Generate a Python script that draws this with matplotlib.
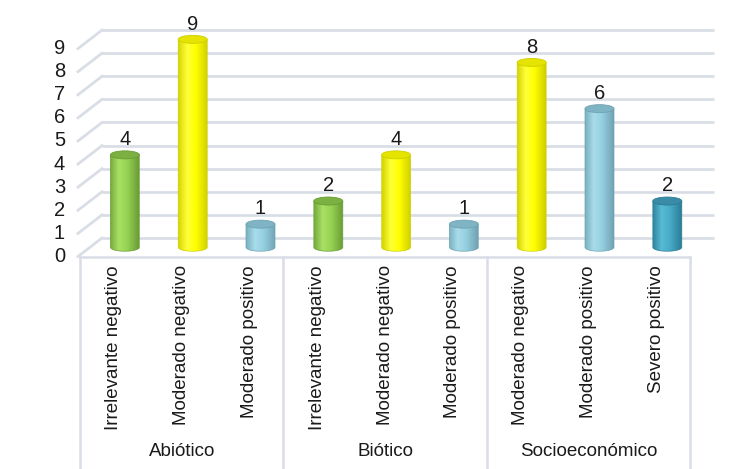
import numpy as np
import matplotlib
matplotlib.use("Agg")
import matplotlib.pyplot as plt
from matplotlib.patches import Ellipse, Polygon
from matplotlib.colors import LinearSegmentedColormap

plt.rcParams['font.family'] = ['Liberation Sans', 'DejaVu Sans']

groups = ['Abiótico', 'Biótico', 'Socioeconómico']
group_sizes = [3, 3, 3]
labels = ['Irrelevante negativo', 'Moderado negativo', 'Moderado positivo',
          'Irrelevante negativo', 'Moderado negativo', 'Moderado positivo',
          'Moderado negativo', 'Moderado positivo', 'Severo positivo']
values = [4, 9, 1, 2, 4, 1, 8, 6, 2]
y_ticks = list(range(10))

# colour per impact type: (dark edge, highlight, base, right edge, top)
palette = {
    'Irrelevante negativo': ('#74AA3C', '#A9E064', '#96D352', '#6A9C36', '#7BB142'),
    'Moderado negativo': ('#D4D400', '#FFFF3A', '#FFFF00', '#CFCF00', '#E4E400'),
    'Moderado positivo': ('#79AFBF', '#A8DCEA', '#94CFDF', '#6FA2B2', '#7FB4C4'),
    'Severo positivo': ('#2F86A0', '#58BBD6', '#47AAC6', '#2A7C95', '#3A8CA6'),
}

fig = plt.figure(figsize=(7.51, 4.69), dpi=100)
ax = fig.add_axes([0, 0, 1, 1])
ax.set_axis_off()

# pixel geometry -> data coords (front plane: x slot = 1 unit, y value = 1 unit)
px_x = 67.8
px_y = 23.1
x0_px, y0_px = 80, 256.5
ax.set_xlim(-0.5 - x0_px / px_x, -0.5 + (751 - x0_px) / px_x)
ax.set_ylim((y0_px - 469) / px_y, y0_px / px_y)
ax.set_autoscale_on(False)

dxb, dyb = 22 / px_x, 18.5 / px_y      # back wall offset
dxm, dym = dxb / 2, dyb / 2            # bars sit at mid depth
n = len(values)
grid_c = '#D9DEE6'
txt_c = '#1a1a1a'

# wall gridlines + side diagonals
for v in y_ticks:
    ax.plot([-0.5 + dxb, n - 0.5 + dxb + 0.03], [v + dyb, v + dyb], color=grid_c, lw=2, zorder=1,
            solid_capstyle='butt')
    ax.plot([-0.53, -0.5 + dxb], [v, v + dyb], color=grid_c, lw=2, zorder=1)
    ax.text(-0.72, v, str(v), ha='right', va='center', fontsize=14.5, color=txt_c)

# category box
ybot = ax.get_ylim()[0]
ax.plot([-0.5, n - 0.5], [0, 0], color=grid_c, lw=1.8, zorder=1)
bounds = np.concatenate([[0], np.cumsum(group_sizes)]) - 0.5
for b in bounds:
    ax.plot([b, b], [0, ybot], color=grid_c, lw=1.8, zorder=1)
for g, lo, hi in zip(groups, bounds[:-1], bounds[1:]):
    ax.text((lo + hi) / 2, -8.46, g, ha='center', va='center', fontsize=13.5, color=txt_c)

# cylinders
w = 29 / px_x
eh = 8 / px_y
grad = np.linspace(0, 1, 128).reshape(1, -1)
t = np.linspace(np.pi, 2 * np.pi, 60)
for i, (lab, v) in enumerate(zip(labels, values)):
    left, hl, base, right, top = palette[lab]
    cmap = LinearSegmentedColormap.from_list(lab, [(0, left), (0.3, hl), (0.6, base), (1, right)])
    xc = i + dxm
    yb = dym
    yt = v + dym
    pts = [(xc - w / 2, yt), (xc - w / 2, yb)]
    pts += list(zip(xc + w / 2 * np.cos(t), yb + eh / 2 * np.sin(t)))
    pts += [(xc + w / 2, yt)]
    clip = Polygon(pts, closed=True, facecolor='none', edgecolor='none', transform=ax.transData)
    ax.add_patch(clip)
    im = ax.imshow(grad, cmap=cmap, extent=[xc - w / 2, xc + w / 2, yb - eh / 2, yt],
                   aspect='auto', zorder=3, interpolation='bilinear')
    im.set_clip_path(clip)
    ax.add_patch(Polygon(pts, closed=True, fill=False, edgecolor=right, lw=0.5, zorder=3))
    ax.add_patch(Ellipse((xc, yt), w, eh, facecolor=top, edgecolor=right, lw=0.6, zorder=4))
    ax.text(xc, yt + 0.25, str(v), ha='center', va='bottom', fontsize=14.5, color=txt_c, zorder=5)
    ax.text(i, -0.37, lab, rotation=90, ha='center', va='top', fontsize=13.5, color=txt_c)

fig.savefig('out.png', dpi=100)
